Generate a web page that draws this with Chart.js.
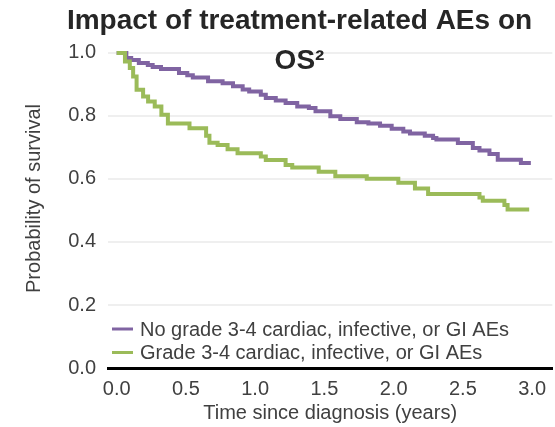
<!DOCTYPE html>
<html lang="en">
<head>
    <meta charset="UTF-8">
    <title>Impact of treatment-related AEs on OS</title>
    <script src="https://cdn.jsdelivr.net/npm/chart.js"></script>
    <style>
        html, body { margin: 0; padding: 0; background: #fff; }
        #wrap { position: relative; width: 555px; height: 427px; }
    </style>
</head>
<body>
    <div id="wrap">
        <canvas id="myChart"></canvas>
    </div>

    <script>
        // data (years, probability)
        var noAeTime = [0, 0.07, 0.105, 0.16, 0.225, 0.26, 0.32, 0.45, 0.51, 0.55, 0.66, 0.765, 0.84, 0.91, 0.957,
            1.041, 1.077, 1.149, 1.22, 1.304, 1.388, 1.436, 1.543, 1.615, 1.734, 1.818, 1.902, 1.986,
            2.07, 2.118, 2.225, 2.285, 2.309, 2.464, 2.572, 2.62, 2.692, 2.752, 2.919, 2.991];
        var noAeSurv = [1.0, 0.984, 0.978, 0.968, 0.962, 0.955, 0.949, 0.936, 0.929, 0.922, 0.910, 0.904, 0.894, 0.884, 0.878,
            0.867, 0.857, 0.849, 0.841, 0.830, 0.825, 0.815, 0.799, 0.790, 0.780, 0.776, 0.769, 0.759,
            0.751, 0.744, 0.737, 0.730, 0.725, 0.714, 0.698, 0.690, 0.679, 0.661, 0.651, 0.651];

        var aeTime = [0, 0.06, 0.095, 0.119, 0.144, 0.191, 0.227, 0.275, 0.323, 0.37, 0.526, 0.646, 0.67, 0.729,
            0.801, 0.873, 1.041, 1.077, 1.22, 1.268, 1.459, 1.579, 1.806, 2.034, 2.154, 2.249, 2.62, 2.644,
            2.8, 2.823, 2.979];
        var aeSurv = [1.0, 0.973, 0.952, 0.925, 0.883, 0.862, 0.846, 0.830, 0.804, 0.776, 0.761, 0.737, 0.715, 0.708,
            0.694, 0.682, 0.671, 0.660, 0.644, 0.636, 0.623, 0.609, 0.601, 0.588, 0.570, 0.552, 0.541, 0.531,
            0.517, 0.503, 0.503];

        var seriesNames = ['No grade 3-4 cardiac, infective, or GI AEs', 'Grade 3-4 cardiac, infective, or GI AEs'];
        var xTicks = [0, 0.5, 1.0, 1.5, 2.0, 2.5, 3.0];
        var yTicks = [0, 0.2, 0.4, 0.6, 0.8, 1.0];
        var titleLines = ['Impact of treatment-related AEs on', 'OS\u00B2'];

        function toPoints(xs, ys) {
            return xs.map(function (x, i) { return { x: x, y: ys[i] }; });
        }

        var FONT = "'Liberation Sans', Arial, sans-serif";
        Chart.defaults.font.family = FONT;
        Chart.defaults.font.size = 20;
        Chart.defaults.color = '#404040';

        // title sits over the plot, so draw it ourselves
        var titlePlugin = {
            id: 'overTitle',
            afterDraw: function (chart) {
                var ctx = chart.ctx;
                ctx.save();
                ctx.fillStyle = '#262626';
                ctx.font = 'bold 28px ' + FONT;
                ctx.textAlign = 'center';
                ctx.textBaseline = 'alphabetic';
                ctx.fillText(titleLines[0], 299.5, 29);
                ctx.fillText(titleLines[1], 299.5, 68.5);
                ctx.restore();
            }
        };

        // legend inside the plot, lower left
        var legendPlugin = {
            id: 'innerLegend',
            afterDraw: function (chart) {
                var ctx = chart.ctx;
                var x0 = chart.chartArea.left + 4;
                var y0 = 329;
                ctx.save();
                ctx.font = '20px ' + FONT;
                ctx.textBaseline = 'middle';
                chart.data.datasets.forEach(function (ds, i) {
                    var y = y0 + i * 23.5;
                    ctx.strokeStyle = ds.borderColor;
                    ctx.lineWidth = 3;
                    ctx.beginPath();
                    ctx.moveTo(x0, y);
                    ctx.lineTo(x0 + 21, y);
                    ctx.stroke();
                    ctx.fillStyle = '#404040';
                    ctx.fillText(ds.label, x0 + 28, y + 1);
                });
                ctx.restore();
            }
        };

        var data = {
            datasets: [
                {
                    label: seriesNames[0],
                    data: toPoints(noAeTime, noAeSurv),
                    borderColor: '#8064A2',
                    borderWidth: 4,
                    stepped: 'before',
                    pointRadius: 0,
                    fill: false,
                    order: 1
                },
                {
                    label: seriesNames[1],
                    data: toPoints(aeTime, aeSurv),
                    borderColor: '#9BBB59',
                    borderWidth: 4,
                    stepped: 'before',
                    pointRadius: 0,
                    fill: false,
                    order: 0
                }
            ]
        };

        var config = {
            type: 'line',
            data: data,
            options: {
                responsive: true,
                maintainAspectRatio: false,
                animation: false,
                layout: { padding: { top: 29, left: 0, right: 0, bottom: 0 } },
                plugins: {
                    legend: { display: false },
                    title: { display: false },
                    tooltip: { enabled: false }
                },
                scales: {
                    x: {
                        type: 'linear',
                        min: -0.0625,
                        max: 3.146,
                        afterBuildTicks: function (scale) {
                            scale.ticks = xTicks.map(function (v) { return { value: v }; });
                        },
                        afterFit: function (scale) { scale.height = 59; },
                        grid: { display: false, drawTicks: false },
                        border: { display: true, color: '#000000', width: 3 },
                        ticks: {
                            padding: 9,
                            maxRotation: 0,
                            callback: function (v) { return Number(v).toFixed(1); }
                        },
                        title: {
                            display: true,
                            text: 'Time since diagnosis (years)',
                            padding: { top: 0, bottom: 2 }
                        }
                    },
                    y: {
                        min: 0,
                        max: 1.076,
                        afterBuildTicks: function (scale) {
                            scale.ticks = yTicks.map(function (v) { return { value: v }; });
                        },
                        afterFit: function (scale) { scale.width = 108; },
                        grid: { color: '#efefef', lineWidth: 2, drawTicks: false },
                        border: { display: false },
                        ticks: {
                            padding: 12,
                            callback: function (v) { return Number(v).toFixed(1); }
                        },
                        title: {
                            display: true,
                            text: 'Probability of survival',
                            padding: { top: 22, bottom: 0 }
                        }
                    }
                }
            },
            plugins: [titlePlugin, legendPlugin]
        };

        var myChart = new Chart(document.getElementById('myChart'), config);
    </script>
</body>
</html>
